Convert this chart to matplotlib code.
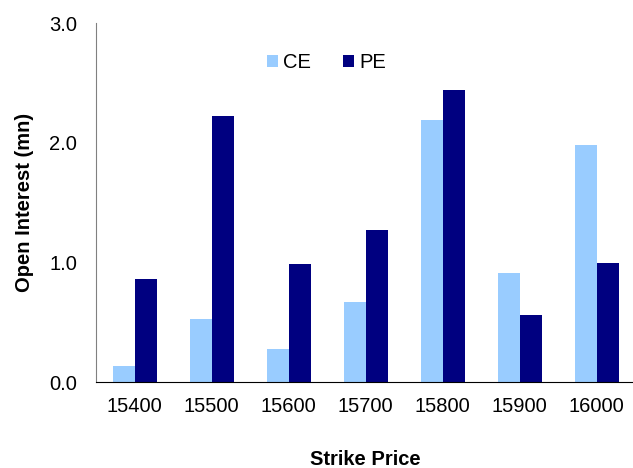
import matplotlib
matplotlib.use("Agg")
import matplotlib.pyplot as plt
import numpy as np

plt.rcParams['font.family'] = ['Liberation Sans', 'DejaVu Sans']

strikes = ["15400", "15500", "15600", "15700", "15800", "15900", "16000"]
ce = [0.13, 0.53, 0.28, 0.67, 2.19, 0.91, 1.98]
pe = [0.86, 2.23, 0.99, 1.27, 2.44, 0.56, 1.00]
yticks = [0.0, 1.0, 2.0, 3.0]

fig = plt.figure(figsize=(6.33, 4.68), dpi=100)
W, H = 633, 468
ax = fig.add_axes([96 / W, 1 - 382 / H, 539 / W, (382 - 23.5) / H])

x = np.arange(len(strikes))
bw = 22 / 77
ax.bar(x - bw / 2, ce, bw, color='#99CCFF', label='CE')
ax.bar(x + bw / 2, pe, bw, color='#000080', label='PE')

ax.set_xlim(-0.5, len(strikes) - 0.5)
ax.set_ylim(0, 3.0)
ax.set_yticks(yticks)
ax.set_yticklabels([f"{v:.1f}" for v in yticks], fontsize=14.5)
ax.set_xticks(x)
ax.set_xticklabels(strikes, fontsize=14.5)
ax.tick_params(axis='both', length=0)
ax.tick_params(axis='y', pad=13.5)
ax.tick_params(axis='x', pad=11)
for s in ['top', 'right']:
    ax.spines[s].set_visible(False)
ax.spines['left'].set_color('#808080')
ax.spines['bottom'].set_color('#000000')

ax.set_ylabel('Open Interest (mn)', fontsize=14.5, fontweight='bold', labelpad=11)
ax.set_xlabel('Strike Price', fontsize=14.5, fontweight='bold', labelpad=24)

ax.legend(loc='center', bbox_to_anchor=((326.5 - 96) / 539, (382 - 63) / (382 - 23.5)),
          ncol=2, frameon=False, fontsize=14.5, handlelength=0.55, handleheight=0.55,
          handletextpad=0.25, columnspacing=1.6)

fig.savefig('out.png', dpi=100)
